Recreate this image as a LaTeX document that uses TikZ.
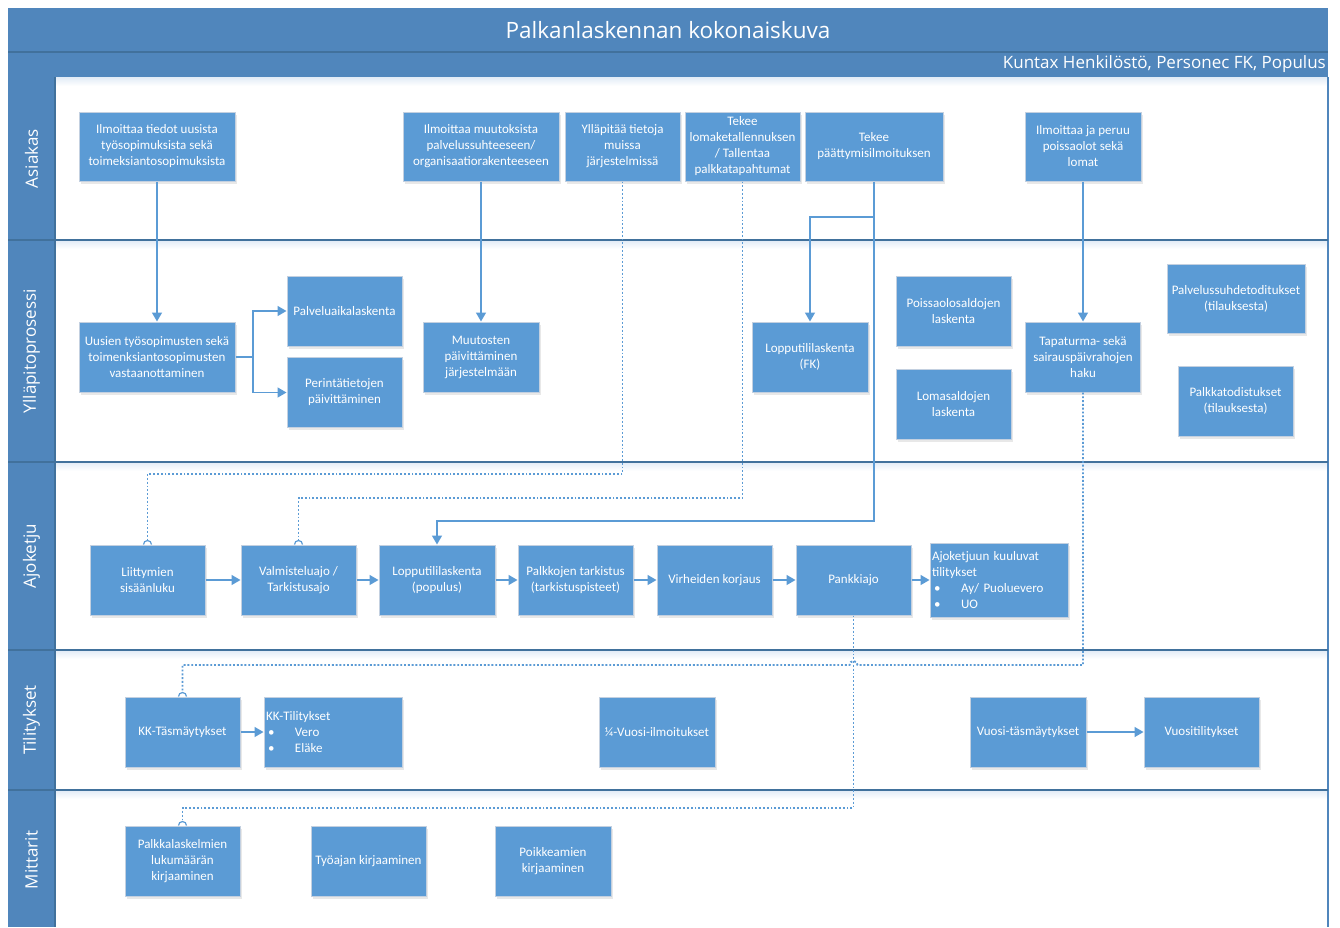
\documentclass[tikz,border=0pt]{standalone}
\usepackage{fontspec}
\setmainfont{Carlito}
\newfontfamily\headfont{Open Sans}
\usetikzlibrary{arrows.meta,shadows}
\definecolor{band}{RGB}{80,134,188}
\definecolor{boxfill}{RGB}{91,155,213}
\definecolor{boxline}{RGB}{195,208,224}
\definecolor{sepc}{RGB}{65,113,156}
\definecolor{conn}{RGB}{91,155,213}
\definecolor{glow}{RGB}{225,235,246}
\begin{document}
\begin{tikzpicture}[x=1pt,y=-1pt,
  box/.style={draw=boxline, line width=1pt, fill=boxfill, text=white, align=center, inner sep=2pt,
    font=\fontsize{13}{16}\selectfont,
    drop shadow={opacity=0.18, shadow xshift=1.5pt, shadow yshift=-2.5pt}},
  lanelabel/.style={rotate=90, text=white, font=\headfont\fontsize{17}{20}\selectfont},
  conl/.style={draw=conn, line width=1.5pt},
  arr/.style={conl, -{Triangle[length=9pt,width=10pt]}},
  dotl/.style={draw=conn, line width=1.9pt, dash pattern=on 1.9pt off 1.9pt},
  hopst/.style={draw=conn, line width=1.2pt},
  sepl/.style={draw=sepc, line width=1.6pt}]
\useasboundingbox (0,0) rectangle (1340,927);
\fill[white] (0,0) rectangle (1340,927);
% frame
\fill[band] (8,8) rectangle (1328,77);
\fill[band] (8,77) rectangle (55,927);
\foreach \yy in {77,240,462,650,790}{
  \shade[top color=glow, bottom color=white] (55,\yy) rectangle (1328,\yy+9);
}
\draw[sepc, line width=1.2pt] (8,52) -- (1328,52);
\draw[sepl] (55,77) -- (55,927);
\draw[band, line width=1.2pt] (1328,77) -- (1328,927);
\draw[sepl] (8,240) -- (1328,240);
\draw[sepl] (8,462) -- (1328,462);
\draw[sepl] (8,650) -- (1328,650);
\draw[sepl] (8,790) -- (1328,790);
% titles
\node[text=white, font=\headfont\fontsize{22.5}{26}\selectfont] (title) at (668,30) {Palkanlaskennan kokonaiskuva};
\node[anchor=east, inner sep=0pt, text=white, font=\headfont\fontsize{17}{20}\selectfont] (sub) at (1326,64) {Kuntax Henkilöstö, Personec FK, Populus};
% lane labels
\node[lanelabel] (l1) at (31.5,158.5) {Asiakas};
\node[lanelabel] (l2) at (31.5,351) {Ylläpitoprosessi};
\node[lanelabel] (l3) at (31.5,556) {Ajoketju};
\node[lanelabel] (l4) at (31.5,720) {Tilitykset};
\node[lanelabel] (l5) at (31.5,860) {Mittarit};
% Asiakas
\node[box, minimum width=156, minimum height=69] (a1) at (157,146.5) {Ilmoittaa tiedot uusista\\työsopimuksista sekä\\toimeksiantosopimuksista};
\node[box, minimum width=156, minimum height=69] (a2) at (481,146.5) {Ilmoittaa muutoksista\\palvelussuhteeseen/\\organisaatiorakenteeseen};
\node[box, minimum width=115, minimum height=69] (a3) at (622.5,146.5) {Ylläpitää tietoja\\muissa\\järjestelmissä};
\node[box, minimum width=115, minimum height=69] (a4) at (742.5,146.5) {Tekee\\lomaketallennuksen\\/ Tallentaa\\palkkatapahtumat};
\node[box, minimum width=138, minimum height=69] (a5) at (874,146.5) {Tekee\\päättymisilmoituksen};
\node[box, minimum width=116, minimum height=69] (a6) at (1083,146.5) {Ilmoittaa ja peruu\\poissaolot sekä\\lomat};
% Yllapitoprosessi
\node[box, minimum width=156, minimum height=70] (y1) at (157,357) {Uusien työsopimusten sekä\\toimenksiantosopimusten\\vastaanottaminen};
\node[box, minimum width=115, minimum height=70] (y2) at (344.5,311) {Palveluaikalaskenta};
\node[box, minimum width=115, minimum height=70] (y3) at (344.5,392.5) {Perintätietojen\\päivittäminen};
\node[box, minimum width=116, minimum height=70] (y4) at (481,357) {Muutosten\\päivittäminen\\järjestelmään};
\node[box, minimum width=116, minimum height=70] (y5) at (810,357) {Lopputililaskenta\\(FK)};
\node[box, minimum width=115, minimum height=70] (y6) at (953.5,311) {Poissaolosaldojen\\laskenta};
\node[box, minimum width=115, minimum height=70] (y7) at (953.5,404) {Lomasaldojen\\laskenta};
\node[box, minimum width=115, minimum height=70] (y8) at (1083,357) {Tapaturma- sekä\\sairauspäivrahojen\\haku};
\node[box, minimum width=138, minimum height=69] (y9) at (1236,298.5) {Palvelussuhdetoditukset\\(tilauksesta)};
\node[box, minimum width=115, minimum height=70] (y10) at (1235.5,401) {Palkkatodistukset\\(tilauksesta)};
% Ajoketju
\node[box, minimum width=115, minimum height=70] (b1) at (147.5,580) {Liittymien\\sisäänluku};
\node[box, minimum width=115, minimum height=70] (b2) at (298.5,580) {Valmisteluajo /\\Tarkistusajo};
\node[box, minimum width=116, minimum height=70] (b3) at (437,580) {Lopputililaskenta\\(populus)};
\node[box, minimum width=115, minimum height=70] (b4) at (575.5,580) {Palkkojen tarkistus\\(tarkistuspisteet)};
\node[box, minimum width=115, minimum height=70] (b5) at (714.5,580) {Virheiden korjaus};
\node[box, minimum width=115, minimum height=70] (b6) at (853.5,580) {Pankkiajo};
\node[box, minimum width=138, minimum height=74, text width=134pt, align=left] (b7) at (999,580) {Ajoketjuun kuuluvat\\tilitykset\\\makebox[29pt][l]{\hspace{2pt}\textbullet}Ay/ Puoluevero\\\makebox[29pt][l]{\hspace{2pt}\textbullet}UO};
% Tilitykset
\node[box, minimum width=115, minimum height=70] (c1) at (182.5,732) {KK-Täsmäytykset};
\node[box, minimum width=138, minimum height=70, text width=134pt, align=left] (c2) at (333,732) {KK-Tilitykset\\\makebox[29pt][l]{\hspace{2pt}\textbullet}Vero\\\makebox[29pt][l]{\hspace{2pt}\textbullet}Eläke};
\node[box, minimum width=116, minimum height=70] (c3) at (657,732) {¼-Vuosi-ilmoitukset};
\node[box, minimum width=116, minimum height=70] (c4) at (1028,732) {Vuosi-täsmäytykset};
\node[box, minimum width=115, minimum height=70] (c5) at (1201.5,732) {Vuositilitykset};
% Mittarit
\node[box, minimum width=115, minimum height=70] (d1) at (182.5,861) {Palkkalaskelmien\\lukumäärän\\kirjaaminen};
\node[box, minimum width=115, minimum height=70] (d2) at (368.5,861) {Työajan kirjaaminen};
\node[box, minimum width=116, minimum height=70] (d3) at (553,861) {Poikkeamien\\kirjaaminen};
% solid connectors
\draw[arr] (a1.south) -- (y1.north);
\draw[arr] (a2.south) -- (y4.north);
\draw[arr] (a6.south) -- (y8.north);
\coordinate (j1) at (874,217);
\coordinate (j2) at (874,521);
\draw[conl] (a5.south) -- (j1);
\draw[arr] (j1) -| (y5.north);
\draw[arr] (j1) -- (j2) -| (b3.north);
\coordinate (s1) at (253,357);
\draw[conl] (y1.east) -- (s1);
\draw[arr] (s1) |- (y2.west);
\draw[arr] (s1) |- (y3.west);
\draw[arr] (b1) -- (b2);
\draw[arr] (b2) -- (b3);
\draw[arr] (b3) -- (b4);
\draw[arr] (b4) -- (b5);
\draw[arr] (b5) -- (b6);
\draw[arr] (b6) -- (b7);
\draw[arr] (c1) -- (c2);
\draw[arr] (c4) -- (c5);
% dotted connectors
\coordinate (k1) at (622.5,474);
\coordinate (k2) at (742.5,498);
\coordinate (k3) at (857.5,665);
\coordinate (k4) at (182.5,665);
\coordinate (k5) at (182.5,808);
\draw[dotl] (a3.south) -- (k1) -| ([yshift=4pt]b1.north);
\draw[dotl] (a4.south) -- (k2) -| ([yshift=4pt]b2.north);
\draw[dotl] (y8.south) |- (k3) arc[start angle=0, end angle=180, radius=4pt] -- (k4) -- ([yshift=4pt]c1.north);
\draw[dotl] (b6.south) |- (k5) -- ([yshift=4pt]d1.north);
% hop markers
\draw[hopst] ([xshift=-4pt]b1.north) arc[start angle=180, end angle=0, radius=4pt];
\draw[hopst] ([xshift=-4pt]b2.north) arc[start angle=180, end angle=0, radius=4pt];
\draw[hopst] ([xshift=-4pt]c1.north) arc[start angle=180, end angle=0, radius=4pt];
\draw[hopst] ([xshift=-4pt]d1.north) arc[start angle=180, end angle=0, radius=4pt];
\end{tikzpicture}
\end{document}
